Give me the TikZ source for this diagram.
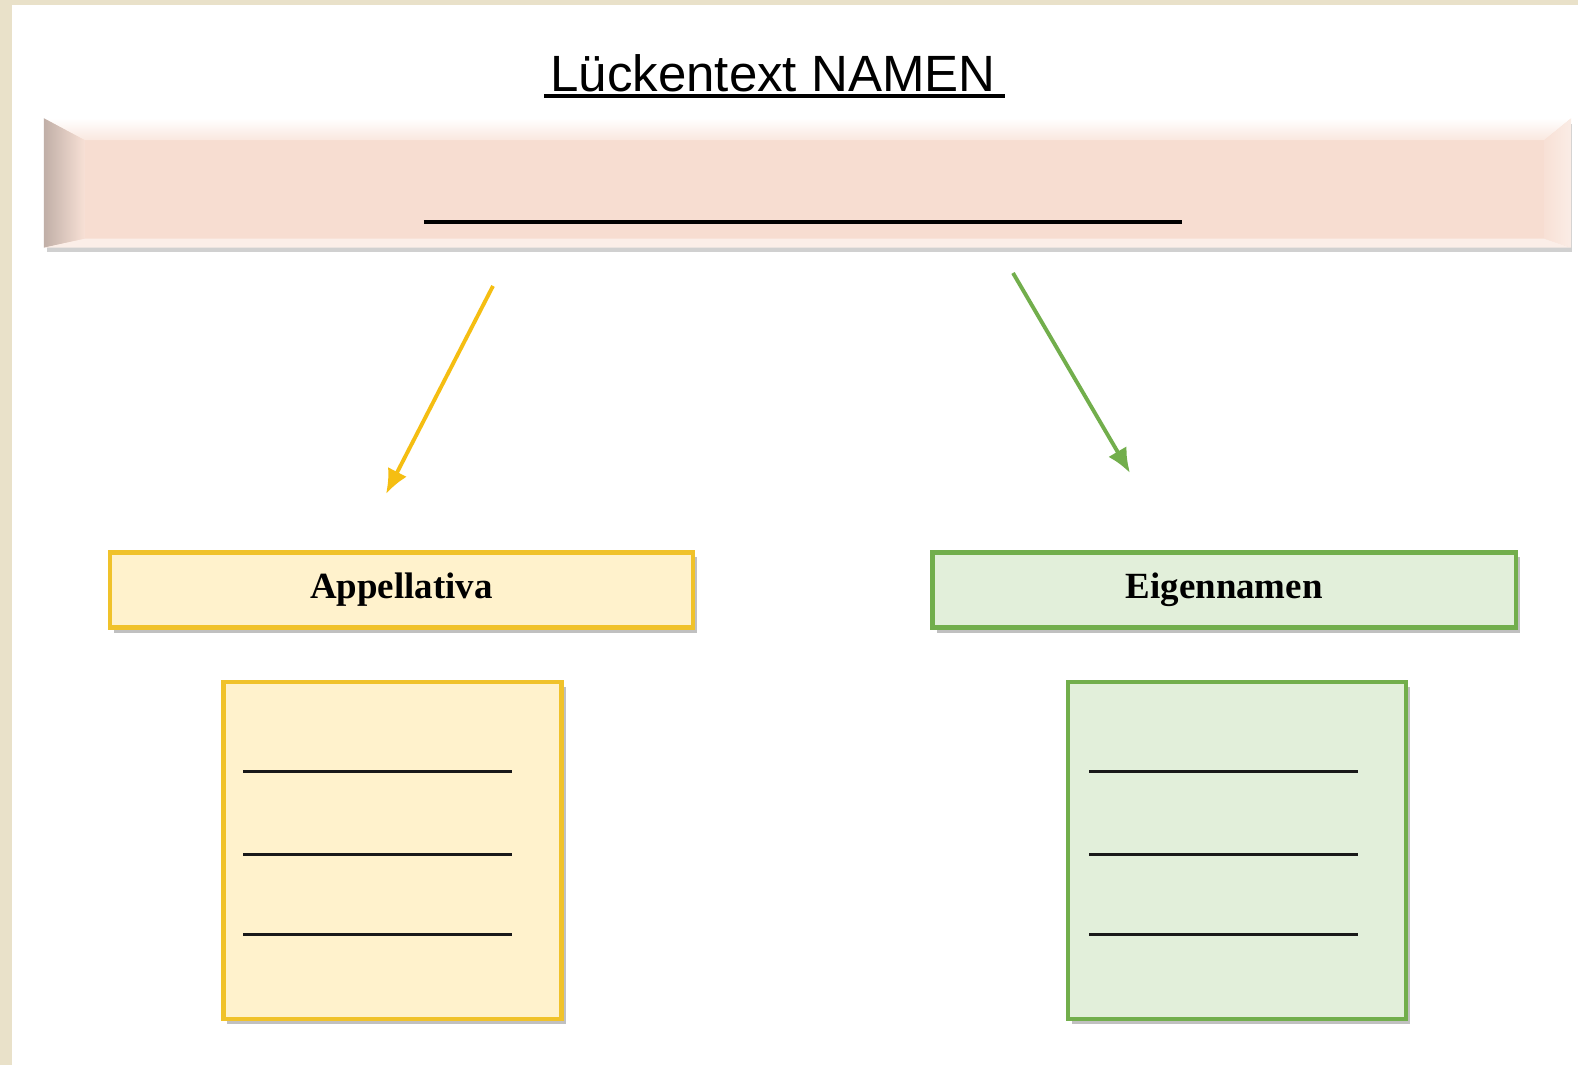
\documentclass[tikz,border=0pt]{standalone}
\usepackage{fontspec}
\setmainfont{Liberation Serif}
\newfontfamily\titlefont{Liberation Sans}
\usetikzlibrary{positioning, shadows, arrows.meta}

\definecolor{pageframe}{HTML}{E9E1C9}
\definecolor{barpink}{HTML}{F7DDD1}
\definecolor{yellowfill}{HTML}{FFF2CC}
\definecolor{yellowline}{HTML}{F0C22A}
\definecolor{yellowarrow}{HTML}{F5BE12}
\definecolor{greenfill}{HTML}{E2EFDA}
\definecolor{greenline}{HTML}{72AE4C}

\begin{document}
\begin{tikzpicture}[x=0.01cm, y=-0.01cm,
    boxshadow/.style={drop shadow={shadow xshift=0.04cm, shadow yshift=-0.05cm, fill=black!70, opacity=0.35}},
    catbox/.style={draw, line width=1.2pt, boxshadow, minimum width=5.83cm, minimum height=0.75cm,
        font=\bfseries\fontsize{10.5}{12}\selectfont},
    notebox/.style={draw, line width=1.2pt, boxshadow, minimum width=3.38cm, minimum height=3.37cm},
    blank/.style={line width=0.85pt, black!90},
    catarrow/.style={line width=1.1pt, -{Latex[length=7pt, width=6pt]}}]

    \useasboundingbox (0,0) rectangle (1578,1065);
    \fill[pageframe] (0,0) rectangle (1578,1065);
    \fill[white] (12,5) rectangle (1578,1065);

    % Title
    \node[inner sep=0pt, font=\titlefont\fontsize{14.5}{16}\selectfont] (title) at (773,73) {Lückentext NAMEN};
    \draw[line width=1.1pt] (544,96) -- (1005,96);

    % Bevelled bar
    \node[draw=none, fill=barpink, minimum width=15.25cm, minimum height=1.28cm, inner sep=0pt,
        drop shadow={shadow xshift=0.02cm, shadow yshift=-0.05cm, fill=black!60, opacity=0.3}] (bar) at (807.5,183) {};
    \shade[top color=white, bottom color=barpink!70!white]
        (bar.north west) -- (bar.north east) -- ([shift={(-27,22)}]bar.north east) -- ([shift={(41,22)}]bar.north west) -- cycle;
    \shade[left color=barpink!75!black!90, right color=barpink!90!white]
        (bar.north west) -- ([shift={(41,22)}]bar.north west) -- ([shift={(41,-9)}]bar.south west) -- (bar.south west) -- cycle;
    \shade[left color=barpink!90!white, right color=barpink!55!white]
        (bar.north east) -- ([shift={(-27,22)}]bar.north east) -- ([shift={(-27,-9)}]bar.south east) -- (bar.south east) -- cycle;
    \fill[barpink!50!white]
        (bar.south west) -- ([shift={(41,-9)}]bar.south west) -- ([shift={(-27,-9)}]bar.south east) -- (bar.south east) -- cycle;
    \draw[line width=1.1pt] ([shift={(380,-26)}]bar.south west) -- ++(758,0);

    % Categories
    \node[catbox, draw=yellowline, fill=yellowfill] (appell) at (401.5,590) {Appellativa};
    \node[catbox, draw=greenline, fill=greenfill, right=2.35cm of appell] (eigen) {Eigennamen};

    % Boxes for the answers
    \node[notebox, draw=yellowline, fill=yellowfill, below=0.5cm of appell, xshift=-0.09cm] (applist) {};
    \node[notebox, draw=greenline, fill=greenfill, below=0.5cm of eigen, xshift=0.13cm] (eigenlist) {};
    \foreach \dy in {92,175,255} {
        \draw[blank] ([shift={(22,\dy)}]applist.north west) -- ++(269,0);
        \draw[blank] ([shift={(23,\dy)}]eigenlist.north west) -- ++(269,0);
    }

    % Arrows
    \coordinate (ystart) at (493,286);
    \coordinate (yend) at (386,494);
    \coordinate (gstart) at (1013,273);
    \coordinate (gend) at (1130,473);
    \draw[catarrow, yellowarrow] (ystart) -- (yend);
    \draw[catarrow, greenline] (gstart) -- (gend);
\end{tikzpicture}
\end{document}
